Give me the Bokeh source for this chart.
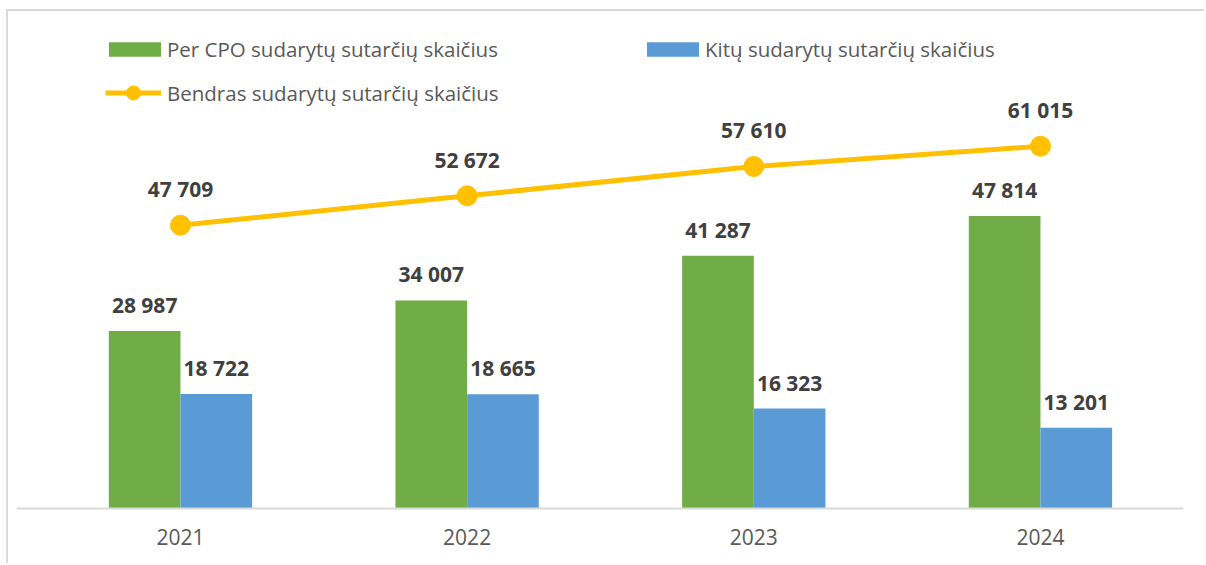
from bokeh.plotting import figure
from bokeh.models import (ColumnDataSource, Range1d, FixedTicker, Legend, LegendItem)
from bokeh.core.properties import value
from bokeh.embed import file_html
from bokeh.resources import INLINE

years = ["2021", "2022", "2023", "2024"]
cpo = [28987, 34007, 41287, 47814]
other = [18722, 18665, 16323, 13201]
total = [47709, 52672, 57610, 61015]

label_cpo = "Per CPO sudarytų sutarčių skaičius"
label_other = "Kitų sudarytų sutarčių skaičius"
label_total = "Bendras sudarytų sutarčių skaičius"

GREEN = "#70AD47"
BLUE = "#5B9BD5"
GOLD = "#FFC000"
FONT = "Open Sans"


def fmt(v):
    return f"{v:,}".replace(",", " ")


idx = list(range(len(years)))
src = ColumnDataSource(dict(
    x=idx,
    xg=[i - 0.125 for i in idx],
    xb=[i + 0.125 for i in idx],
    cpo=cpo, other=other, total=total,
    cpo_t=[fmt(v) for v in cpo],
    other_t=[fmt(v) for v in other],
    total_t=[fmt(v) for v in total],
))

p = figure(width=1198, height=554, output_backend="svg", toolbar_location=None,
           x_range=Range1d(-0.572, 3.499), y_range=Range1d(0, 79740),
           min_border_left=8, min_border_right=23, min_border_top=9, min_border_bottom=57)
p.styles = {"margin-left": "6px", "margin-top": "9px",
            "border-top": "2px solid #d9d9d9", "border-left": "2px solid #d9d9d9"}
p.extra_y_ranges = {"total": Range1d(0, 82200)}
p.outline_line_color = None
p.xgrid.visible = False
p.ygrid.visible = False
p.yaxis.visible = False

ax = p.xaxis[0]
ax.ticker = FixedTicker(ticks=idx)
ax.major_label_overrides = {i: y for i, y in zip(idx, years)}
ax.major_tick_line_color = None
ax.minor_tick_line_color = None
ax.axis_line_color = "#d9d9d9"
ax.axis_line_width = 2
ax.major_label_text_font = FONT
ax.major_label_text_font_size = "21px"
ax.major_label_text_color = "#595959"
ax.major_label_standoff = 14

r_g = p.vbar(x="xg", top="cpo", width=0.25, source=src, fill_color=GREEN, line_color=None)
r_b = p.vbar(x="xb", top="other", width=0.25, source=src, fill_color=BLUE, line_color=None)
r_l = p.line(x="x", y="total", source=src, y_range_name="total", line_color=GOLD, line_width=5)
r_s = p.scatter(x="x", y="total", source=src, y_range_name="total", size=20,
                fill_color=GOLD, line_color=GOLD)

common = dict(text_font=value(FONT), text_font_style="bold", text_font_size="21px",
              text_color="#404040", text_align="center", text_baseline="alphabetic")
p.text(x="xg", y="cpo", text="cpo_t", source=src, y_offset=-26, **common)
p.text(x="xb", y="other", text="other_t", source=src, y_offset=-26, **common)
p.text(x="x", y="total", text="total_t", source=src, y_range_name="total", y_offset=-36, **common)

leg_style = dict(padding=0, margin=0,
                 border_line_color=None, background_fill_alpha=0,
                 label_text_font=FONT, label_text_font_size="20.5px", label_text_color="#595959",
                 orientation="horizontal")
leg1 = Legend(items=[LegendItem(label=label_cpo, renderers=[r_g]),
                     LegendItem(label=label_other, renderers=[r_b])],
              location=(86, 445), spacing=142, glyph_width=65, glyph_height=18,
              label_standoff=0, **leg_style)
leg2 = Legend(items=[LegendItem(label=label_total, renderers=[r_l, r_s])],
              location=(89, 398), glyph_width=56, glyph_height=35,
              label_standoff=6, **leg_style)
p.add_layout(leg1, "center")
p.add_layout(leg2, "center")

open("out.html", "w").write(file_html(p, INLINE))
